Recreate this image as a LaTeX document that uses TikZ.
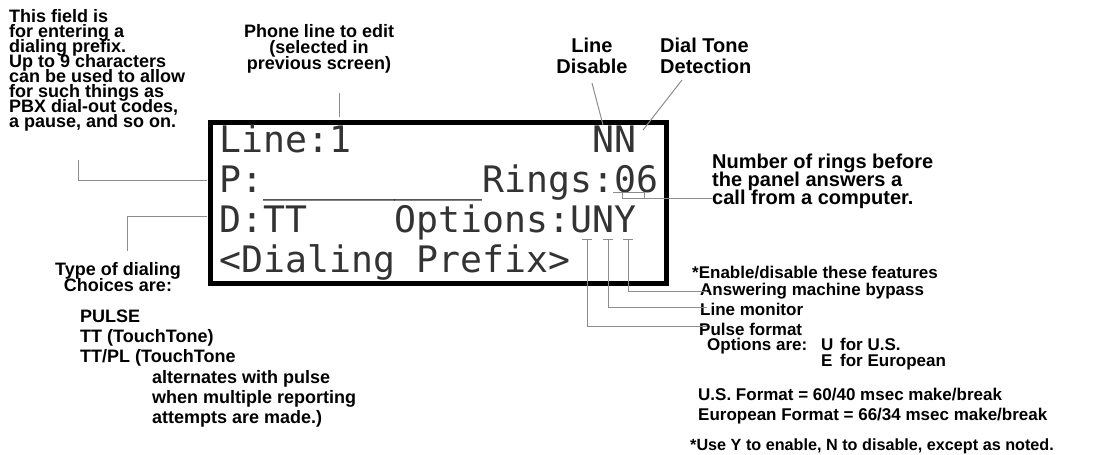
\documentclass[tikz,border=0pt]{standalone}
\usepackage{fontspec}
\setmainfont{Liberation Sans}
\newfontfamily\lcdfont{DejaVu Sans Mono}
\usetikzlibrary{calc}
\lineskiplimit=-\maxdimen

\begin{document}
\begin{tikzpicture}[
  x=1pt, y=-1pt,
  note/.style={inner sep=0pt, anchor=base west, align=left, font=\bfseries\fontsize{18}{15}\selectfont},
  notelg/.style={note, font=\bfseries\fontsize{20}{21}\selectfont},
  notesm/.style={note, font=\bfseries\fontsize{17}{20}\selectfont},
  lead/.style={draw=black!45, line width=1pt},
  lcd/.style={draw, line width=4.5pt, minimum width=456pt, minimum height=161pt, inner sep=0pt},
  screen/.style={inner sep=0pt, anchor=base west, align=left, text=black!80, font=\lcdfont\fontsize{36.5}{39.7}\selectfont}
]
  \useasboundingbox (0,0) rectangle (1117,455);
  % LCD screen (nodes sit on the baseline of their last line)
  \node[lcd] (lcd) at (438.5,203) {};
  \node[screen] (rows) at (219,272) {Line:1~~~~~~~~~~~NN\\P:\_\_\_\_\_\_\_\_\_\_Rings:06\\D:TT~~~~Options:UNY\\<Dialing Prefix>};
  % Top notes
  \node[note] (prefix) at (9,127) {This field is\\for entering a\\dialing prefix.\\Up to 9 characters\\can be used to allow\\for such things as\\PBX dial-out codes,\\a pause, and so on.};
  \node[note, anchor=base, align=center, font=\bfseries\fontsize{18}{16}\selectfont] (phone) at (319,69) {Phone line to edit\\(selected in\\previous screen)};
  \node[notelg, anchor=base, align=center] (disable) at (592,73) {Line\\Disable};
  \node[notelg] (dialtone) at (660,73) {Dial Tone\\Detection};
  \node[notelg, font=\bfseries\fontsize{20}{18}\selectfont] (rings) at (712,204) {Number of rings before\\the panel answers a\\call from a computer.};
  % Left notes
  \node[note, anchor=base, align=center, font=\bfseries\fontsize{18}{16}\selectfont] (dialtype) at (118,291) {Type of dialing\\Choices are:};
  \node[note, font=\bfseries\fontsize{18}{20}\selectfont] (choices) at (80,362) {PULSE\\TT (TouchTone)\\TT/PL (TouchTone};
  \node[note, font=\bfseries\fontsize{18}{20}\selectfont] (choicesmore) at (152,423) {alternates with pulse\\when multiple reporting\\attempts are made.)};
  % Right notes
  \node[notesm] (enable) at (692,278) {*Enable/disable these features};
  \node[notesm] (answer) at (700,295) {Answering machine bypass};
  \node[notesm] (monitor) at (700,315) {Line monitor};
  \node[notesm] (pulse) at (699,335) {Pulse format};
  \node[notesm] (options) at (707,350) {Options are:};
  \node[notesm, font=\bfseries\fontsize{17}{16}\selectfont] (optvals) at (821,366) {\makebox[19pt][l]{U}for U.S.\\\makebox[19pt][l]{E}for European};
  \node[notesm] (formats) at (698,420) {U.S. Format = 60/40 msec make/break\\European Format = 66/34 msec make/break};
  \node[notesm, font=\bfseries\fontsize{16.2}{20}\selectfont] (usage) at (690,450) {*Use Y to enable, N to disable, except as noted.};
  % Lead points
  \coordinate (phonetip) at (339,93);
  \coordinate (phoneend) at (339,117);
  \coordinate (disabletip) at (592,83);
  \coordinate (disableend) at (603,125);
  \coordinate (dialtip) at (682,80);
  \coordinate (dialend) at (643,130);
  \coordinate (prefixtip) at (78,160);
  \coordinate (prefixend) at (207,180);
  \coordinate (typetip) at (127,251);
  \coordinate (typeend) at (207,216);
  \coordinate (ringsl) at (613,192);
  \coordinate (ringsr) at (644,192);
  \coordinate (ringsend) at (712,198);
  \coordinate (ubar) at (587,239);
  \coordinate (nbar) at (608,239);
  \coordinate (ybar) at (628,239);
  \coordinate (uend) at (707,326);
  \coordinate (nend) at (707,307);
  \coordinate (yend) at (707,291);
  % Leads
  \draw[lead] (phonetip) -- (phoneend);
  \draw[lead] (disabletip) -- (disableend);
  \draw[lead] (dialtip) -- (dialend);
  \draw[lead] (prefixtip) |- (prefixend);
  \draw[lead] (typetip) |- (typeend);
  \draw[lead] (ringsl) -- (ringsr) -- (ringsr |- ringsend);
  \draw[lead] ($(ringsl)+(9,0)$) |- (ringsend);
  \foreach \c/\e in {ubar/uend, nbar/nend, ybar/yend} {
    \draw[lead] ($(\c)+(-5,0)$) -- ($(\c)+(5,0)$);
    \draw[lead] (\c) |- (\e);
  }
\end{tikzpicture}
\end{document}
